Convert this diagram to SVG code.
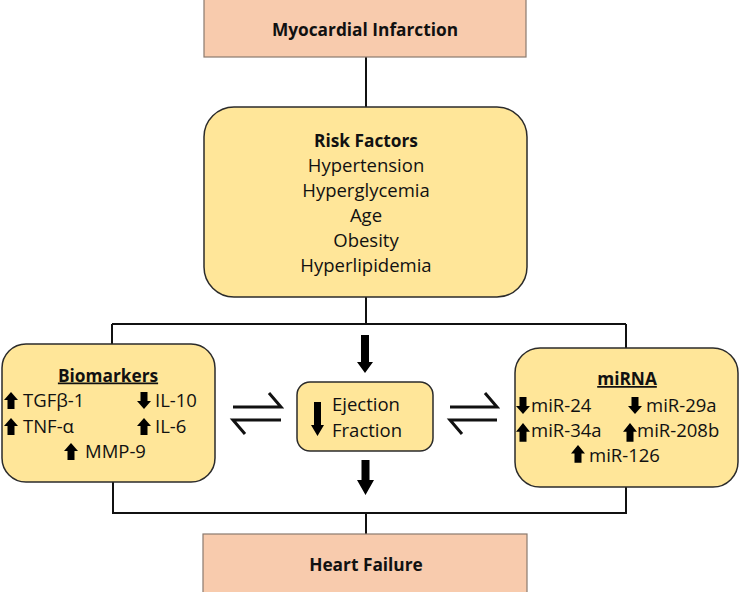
<svg xmlns="http://www.w3.org/2000/svg" width="740" height="592" viewBox="0 0 740 592">
<style>
text{font-family:"Open Sans","Liberation Sans",sans-serif;fill:#111}
.b{font-weight:bold;font-size:17.3px}
.r{font-size:18.5px}
.c{text-anchor:middle}
.u{text-decoration:underline}
.peach{fill:#F8CBAD;stroke:#8a7a6e;stroke-width:1.2}
.yel{fill:#FFE699;stroke:#2b2b2b;stroke-width:1.5}
.ln{stroke:#111;stroke-width:2;fill:none}
.eq{stroke:#111;stroke-width:3;fill:none;stroke-linecap:butt}
.blk{fill:#000}
</style>
<defs>
<path id="up" d="M7 0 L14 8 L10.5 8 L10.5 17 L3.5 17 L3.5 8 L0 8 Z"/>
<path id="dn" d="M7 17 L14 9 L10.5 9 L10.5 0 L3.5 0 L3.5 9 L0 9 Z"/>
</defs>
<g id="connectors">
<path class="ln" d="M366 57 V107"/>
<path class="ln" d="M366 297 V324"/>
<path class="ln" d="M112 324 H626"/>
<path class="ln" d="M112 324 V344"/>
<path class="ln" d="M626 324 V348"/>
<path class="ln" d="M113 482 V513"/>
<path class="ln" d="M626 487 V513"/>
<path class="ln" d="M112 513 H627"/>
<path class="ln" d="M366 513 V534"/>
<path class="blk" d="M361 335 H369 V362 H373 L365 373 L357 362 H361 Z"/>
<path class="blk" d="M361.5 460 H369.5 V480 H374 L365.5 495 L357 480 H361.5 Z"/>
<path class="eq" d="M233 407 H281 L269 393"/>
<path class="eq" d="M281 420 H233 L245 434"/>
<path class="eq" d="M450 407 H497 L485 393"/>
<path class="eq" d="M497 420 H450 L462 434"/>
</g>
<g id="myocardial-infarction">
<rect class="peach" x="204" y="-1" width="322" height="58"/>
<text class="b c" x="365" y="36">Myocardial Infarction</text>
</g>
<g id="risk-factors">
<rect class="yel" x="204" y="107" width="323" height="190" rx="30"/>
<text class="b c" x="366" y="146.5">Risk Factors</text>
<text class="r c" x="366" y="171.5">Hypertension</text>
<text class="r c" x="366" y="196.5">Hyperglycemia</text>
<text class="r c" x="366" y="221.5">Age</text>
<text class="r c" x="366" y="246.5">Obesity</text>
<text class="r c" x="366" y="271.5">Hyperlipidemia</text>
</g>
<g id="biomarkers">
<rect class="yel" x="2" y="344" width="213" height="138" rx="24"/>
<text class="b c u" x="108" y="381.5">Biomarkers</text>
<use href="#up" transform="translate(4,392)"/>
<text class="r" x="23" y="407">TGFβ-1</text>
<use href="#dn" transform="translate(137,392)"/>
<text class="r" x="155" y="407">IL-10</text>
<use href="#up" transform="translate(4,418)"/>
<text class="r" x="23" y="433">TNF-α</text>
<use href="#up" transform="translate(137,418)"/>
<text class="r" x="155" y="433">IL-6</text>
<use href="#up" transform="translate(64,443)"/>
<text class="r" x="85" y="458">MMP-9</text>
</g>
<g id="ejection-fraction">
<rect class="yel" x="297" y="382" width="136" height="69" rx="13"/>
<path class="blk" d="M314 402 H321 V425 H324 L317.5 436 L311 425 H314 Z"/>
<text class="r" x="332" y="411">Ejection</text>
<text class="r" x="332" y="437">Fraction</text>
</g>
<g id="mirna">
<rect class="yel" x="515" y="348" width="223" height="139" rx="25"/>
<text class="b c u" x="627" y="385">miRNA</text>
<use href="#dn" transform="translate(516,397)"/>
<text class="r" x="531" y="411.5">miR-24</text>
<use href="#dn" transform="translate(628,397)"/>
<text class="r" x="646" y="411.5">miR-29a</text>
<use href="#up" transform="translate(516,423) scale(1,1.1)"/>
<text class="r" x="531" y="436.5">miR-34a</text>
<use href="#up" transform="translate(623,423) scale(1,1.1)"/>
<text class="r" x="637" y="436.5">miR-208b</text>
<use href="#up" transform="translate(571,445) scale(1,1.05)"/>
<text class="r" x="589" y="461.5">miR-126</text>
</g>
<g id="heart-failure">
<rect class="peach" x="203" y="534" width="324" height="59"/>
<text class="b c" x="366" y="570.5">Heart Failure</text>
</g>
</svg>
